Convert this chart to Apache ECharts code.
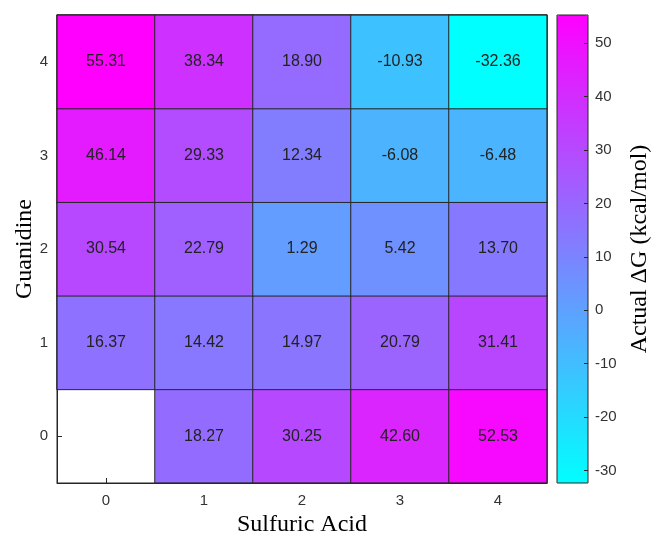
<!DOCTYPE html>
<html>
<head>
<meta charset="utf-8">
<script src="https://cdn.jsdelivr.net/npm/echarts@6/dist/echarts.min.js"></script>
<style>html,body{margin:0;padding:0;background:#fff}#c{width:651px;height:536px}</style>
</head>
<body>
<div id="c"></div>
<script>
const sulfuricAcid = ['0', '1', '2', '3', '4'];
const guanidine = ['0', '1', '2', '3', '4'];
// rows by guanidine level (0..4), columns by sulfuric acid (0..4); null = empty cell
const row0 = [null, 18.27, 30.25, 42.60, 52.53];
const row1 = [16.37, 14.42, 14.97, 20.79, 31.41];
const row2 = [30.54, 22.79, 1.29, 5.42, 13.70];
const row3 = [46.14, 29.33, 12.34, -6.08, -6.48];
const row4 = [55.31, 38.34, 18.90, -10.93, -32.36];
const colorMin = -32.36;
const colorMax = 55.31;

const rows = [row0, row1, row2, row3, row4];
const data = [];
rows.forEach((r, yi) => r.forEach((v, xi) => { if (v !== null) data.push([xi, yi, v]); }));

const chart = echarts.init(document.getElementById('c'), null, {renderer: 'canvas'});
const sans = 'Liberation Sans, Arial, sans-serif';
const serif = 'Liberation Serif, Times New Roman, serif';
chart.setOption({
  animation: false,
  backgroundColor: '#fff',
  grid: [
    {left: 57, top: 15, width: 490, height: 468, outerBoundsMode: 'none', containLabel: false,
     show: true, z: 10, backgroundColor: 'transparent', borderColor: '#262626', borderWidth: 1},
    {left: 557, top: 15, width: 31, height: 468, outerBoundsMode: 'none', containLabel: false,
     show: true, z: 10, backgroundColor: 'transparent', borderColor: '#262626', borderWidth: 1}
  ],
  xAxis: [
    {type: 'category', gridIndex: 0, data: sulfuricAcid, position: 'bottom',
     name: 'Sulfuric Acid', nameLocation: 'middle', nameGap: 27,
     nameTextStyle: {fontFamily: serif, fontSize: 24, color: '#000'},
     axisLine: {show: true, lineStyle: {color: '#262626'}},
     axisTick: {show: true, inside: true, alignWithLabel: true, length: 5, lineStyle: {color: '#262626'}},
     axisLabel: {fontFamily: sans, fontSize: 15, color: '#333', margin: 10},
     splitLine: {show: false}},
    {type: 'category', gridIndex: 1, show: false, data: ['']}
  ],
  yAxis: [
    {type: 'category', gridIndex: 0, data: guanidine, position: 'left',
     name: 'Guanidine', nameLocation: 'middle', nameGap: 20, nameRotate: 90, nameMoveOverlap: false,
     nameTextStyle: {fontFamily: serif, fontSize: 24, color: '#000'},
     axisLine: {show: true, lineStyle: {color: '#262626'}},
     axisTick: {show: true, inside: true, alignWithLabel: true, length: 5, lineStyle: {color: '#262626'}},
     axisLabel: {fontFamily: sans, fontSize: 15, color: '#333', margin: 9},
     splitLine: {show: false}},
    {type: 'value', gridIndex: 1, position: 'right', min: colorMin, max: colorMax,
     minInterval: 10, maxInterval: 10, z: 12,
     name: 'Actual \u0394G (kcal/mol)', nameLocation: 'middle', nameGap: 40, nameRotate: 90,
     nameTextStyle: {fontFamily: serif, fontSize: 24, color: '#000'},
     axisLine: {show: false, onZero: false},
     axisTick: {show: true, inside: true, length: 4, lineStyle: {color: '#262626'}},
     axisLabel: {fontFamily: sans, fontSize: 15, color: '#333', margin: 7, showMinLabel: false, showMaxLabel: false},
     splitLine: {show: false}}
  ],
  visualMap: {
    type: 'continuous', min: colorMin, max: colorMax, seriesIndex: 0,
    calculable: false, left: 557, top: 15, itemWidth: 31, itemHeight: 468, padding: 0,
    inRange: {color: ['#00ffff', '#ff00ff']}, text: null, hoverLink: false, z: 2
  },
  series: [{
    type: 'heatmap', xAxisIndex: 0, yAxisIndex: 0, data: data,
    itemStyle: {borderColor: '#262626', borderWidth: 1},
    label: {show: true, fontFamily: sans, fontSize: 16, color: '#222',
            formatter: p => p.value[2].toFixed(2)},
    emphasis: {disabled: true}
  }]
});
</script>
</body>
</html>
